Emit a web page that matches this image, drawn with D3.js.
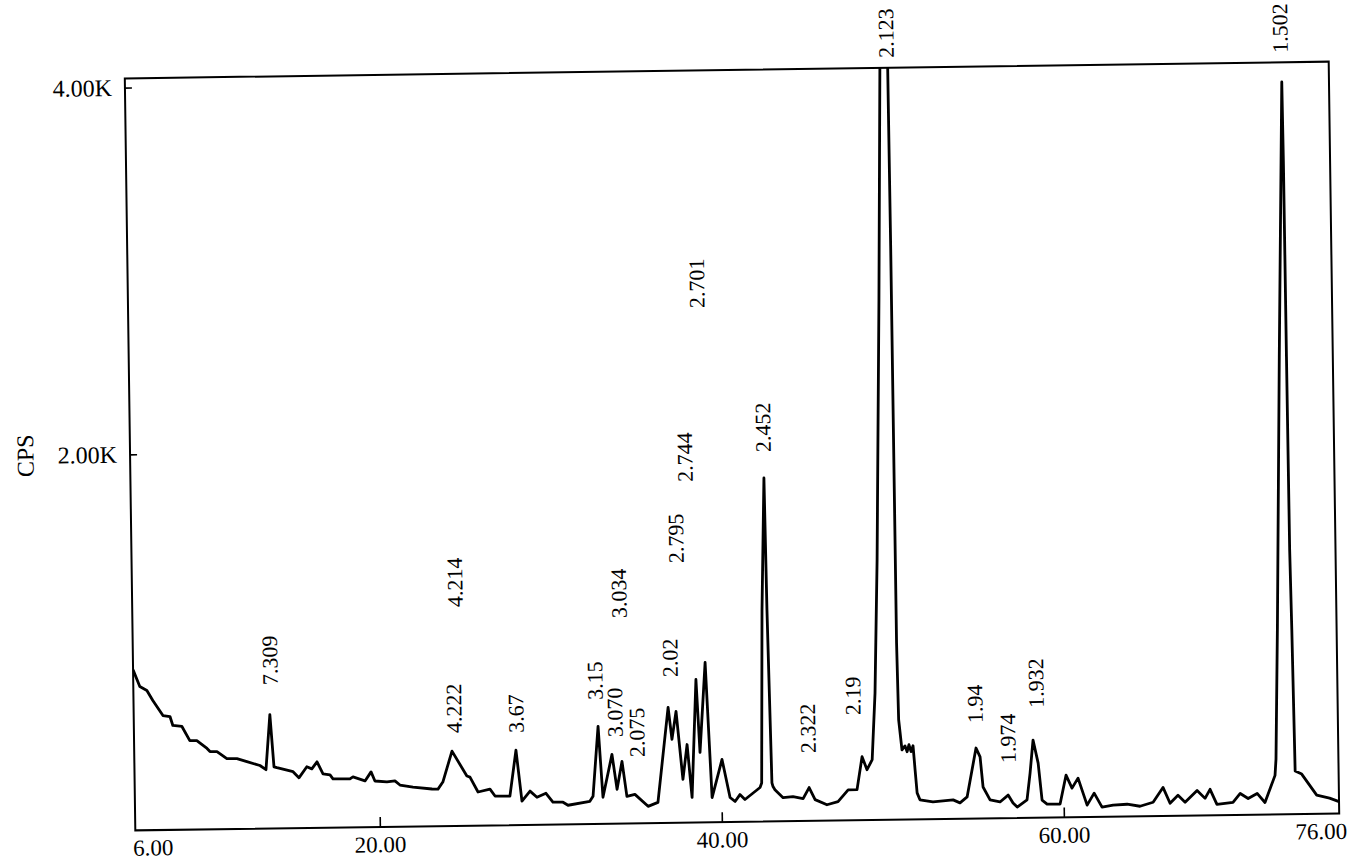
<!DOCTYPE html>
<html>
<head>
<meta charset="utf-8">
<script src="https://cdn.jsdelivr.net/npm/d3@7"></script>
<style>
  html, body { margin: 0; padding: 0; background: #fff; }
  svg { display: block; }
  svg text { font-family: "Liberation Serif", "DejaVu Serif", "Times New Roman", serif; }
</style>
</head>
<body>
<svg id="chart" width="1347" height="861"></svg>
<script>
// ---- data (2-theta in degrees, intensity in CPS) ----
const twoTheta = [5.70,6.08,6.49,6.83,7.41,7.82,7.98,8.51,8.96,9.37,9.96,10.13,10.54,11.11,11.70,12.28,13.04,13.39,13.66,13.86,14.03,14.97,15.31,15.78,16.07,16.38,16.72,17.13,17.30,18.29,18.47,19.17,19.53,19.75,20.45,20.92,21.21,21.97,23.08,23.43,23.72,24.28,25.13,25.31,25.77,26.47,26.76,27.63,28.02,28.33,28.81,29.21,29.74,30.14,30.73,31.02,32.30,32.49,32.84,33.07,33.63,33.90,34.21,34.47,34.94,35.70,36.28,36.95,37.15,37.41,37.76,38.03,38.28,38.60,38.78,39.15,39.45,40.06,40.50,40.79,41.08,41.37,42.26,42.36,42.52,42.74,42.81,42.96,43.02,43.13,43.60,44.18,44.77,45.13,45.47,46.16,46.81,47.41,47.93,48.25,48.53,48.84,49.06,49.29,49.61,49.86,50.10,50.31,50.34,50.36,50.42,50.59,50.77,50.89,51.00,51.12,51.24,51.34,51.44,51.60,52.36,53.54,53.94,54.36,54.92,55.15,55.30,55.70,56.28,56.76,57.04,57.28,57.86,58.06,58.26,58.54,58.74,59.03,59.79,60.16,60.50,60.86,61.37,61.79,62.24,62.89,63.71,64.46,65.23,65.82,66.22,66.69,67.10,67.81,68.27,68.57,68.96,69.90,70.33,70.79,71.32,71.77,72.38,72.45,72.64,72.97,73.34,73.37,73.39,73.42,73.48,73.56,73.94,74.80,75.55,76.10];
const cps = [825,734,712,657,574,568,519,513,435,435,391,374,373,334,333,316,294,271,571,286,281,258,224,284,272,310,244,238,216,214,225,202,251,201,195,200,177,165,153,152,190,358,221,215,133,148,110,108,358,80,134,100,121,72,71,54,74,101,482,95,328,137,289,98,108,42,63,580,405,557,186,376,87,730,332,822,85,292,84,62,99,72,136,160,1103,1823,1103,160,140,123,79,84,72,132,66,37,53,117,117,296,225,279,642,1367,2785,4080,4400,4080,3060,915,495,330,352,320,358,320,352,221,95,57,45,54,37,69,335,286,122,51,39,76,32,10,48,194,374,248,46,24,23,180,109,163,15,80,3,13,17,5,26,106,19,62,23,87,43,92,9,19,67,39,66,16,163,252,971,2444,3943,3496,2443,1390,954,185,168,52,35,15];

// peak annotations (d-spacing text, position in 2-theta / CPS of label foot)
const peakLabels = ["7.309","4.214","4.222","3.67","3.15","3.070","2.075","3.034","2.02","2.795","2.744","2.701","2.452","2.123","2.322","2.19","1.94","1.974","1.932","1.502"];
const labelTheta = [13.69,24.57,24.41,28.04,32.68,33.82,35.09,34.15,37.09,37.53,38.12,38.96,42.71,50.22,45.09,47.75,54.88,56.78,58.46,73.26];
const labelCps   = [732,1143,456,452,626,422,311,1071,745,1366,1808,2755,1965,4104,320,524,471,250,549,4101];

// axes
const xTicks = [6, 20, 40, 60, 76];
const yTicks = [2000, 4000];
const xDomain = [5.7, 76.1];
const yDomain = [-50, 4050];
const yTitle = "CPS";

// ---- drawing ----
const plot = { left: 130, right: 1334, top: 70, bottom: 822 };
const font = "'Liberation Serif','DejaVu Serif','Times New Roman',serif";

const svg = d3.select("#chart");
svg.append("rect").attr("width", 1347).attr("height", 861).attr("fill", "#fff");

// scanned original is slightly tilted
const g = svg.append("g").attr("transform", "rotate(-0.8,732,446)");

const x = d3.scaleLinear().domain(xDomain).range([plot.left, plot.right]);
const y = d3.scaleLinear().domain(yDomain).range([plot.bottom, plot.top]);

g.append("clipPath").attr("id", "clip")
  .append("rect")
  .attr("x", plot.left).attr("y", plot.top)
  .attr("width", plot.right - plot.left).attr("height", plot.bottom - plot.top);

// x axis
const xAxis = d3.axisBottom(x)
  .tickValues(xTicks)
  .tickFormat(d3.format(".2f"))
  .tickSizeInner(-10).tickSizeOuter(0).tickPadding(9);
const gx = g.append("g").attr("transform", `translate(0,${plot.bottom})`).call(xAxis);
gx.attr("font-family", null);
gx.select(".domain").remove();
gx.selectAll(".tick line").attr("stroke", "#000").attr("stroke-width", 1.6)
  .attr("display", d => (d === xTicks[0] || d === xTicks[xTicks.length - 1]) ? "none" : null);
gx.selectAll(".tick text")
  .style("font-family", font).attr("font-size", 23).attr("fill", "#000")
  .attr("text-anchor", d => d === xTicks[0] ? "start" : (d === xTicks[xTicks.length - 1] ? "end" : "middle"))
  .attr("dx", d => d === xTicks[0] ? -8 : (d === xTicks[xTicks.length - 1] ? 9 : 0));

// y axis
const yAxis = d3.axisLeft(y)
  .tickValues(yTicks)
  .tickFormat(d => (d / 1000).toFixed(2) + "K")
  .tickSizeInner(-7).tickSizeOuter(0).tickPadding(13);
const gy = g.append("g").attr("transform", `translate(${plot.left},0)`).call(yAxis);
gy.attr("font-family", null);
gy.select(".domain").remove();
gy.selectAll(".tick line").attr("stroke", "#000").attr("stroke-width", 1.6);
gy.selectAll(".tick text")
  .style("font-family", font).attr("font-size", 24).attr("fill", "#000");

g.append("text")
  .attr("transform", `translate(25,${(plot.top + plot.bottom) / 2}) rotate(-90)`)
  .attr("text-anchor", "middle").attr("dy", "0.35em")
  .style("font-family", font).attr("font-size", 24).attr("fill", "#000")
  .text(yTitle);

// frame
g.append("rect")
  .attr("x", plot.left).attr("y", plot.top)
  .attr("width", plot.right - plot.left).attr("height", plot.bottom - plot.top)
  .attr("fill", "none").attr("stroke", "#000").attr("stroke-width", 2);

// pattern
const pts = twoTheta.map((t, i) => [t, cps[i]]);
const line = d3.line().x(d => x(d[0])).y(d => y(d[1]));
g.append("path")
  .datum(pts)
  .attr("clip-path", "url(#clip)")
  .attr("d", line)
  .attr("fill", "none").attr("stroke", "#000")
  .attr("stroke-width", 2.8).attr("stroke-linejoin", "round");

// peak labels
g.append("g").selectAll("text")
  .data(peakLabels)
  .join("text")
  .attr("transform", (d, i) => `translate(${x(labelTheta[i])},${y(labelCps[i])}) rotate(-90)`)
  .attr("text-anchor", "start").attr("dy", "0.35em")
  .style("font-family", font).attr("font-size", 22).attr("fill", "#000")
  .text(d => d);
</script>
</body>
</html>
